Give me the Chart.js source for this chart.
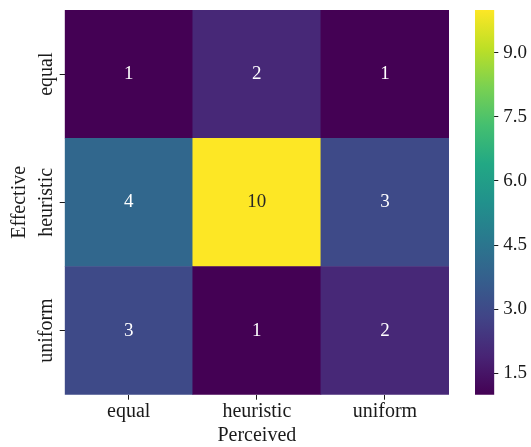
<!DOCTYPE html>
<html>
<head>
<meta charset="utf-8">
<script src="https://cdn.jsdelivr.net/npm/chart.js@4/dist/chart.umd.min.js"></script>
<style>
  html, body { margin: 0; padding: 0; background: #ffffff; }
  #wrap { position: relative; width: 531px; height: 447px; }
  #heat { position: absolute; left: 0; top: 0; }
  #cbar { position: absolute; left: 460px; top: 0; }
</style>
</head>
<body>
<div id="wrap">
  <canvas id="heat" width="460" height="447"></canvas>
  <canvas id="cbar" width="71" height="447"></canvas>
</div>
<script>
// Confusion counts: rows = effective strategy, columns = perceived strategy
const perceived = ['equal', 'heuristic', 'uniform'];
const effective = ['equal', 'heuristic', 'uniform'];
const countsEqual = [1, 2, 1];
const countsHeuristic = [4, 10, 3];
const countsUniform = [3, 1, 2];
const counts = [countsEqual, countsHeuristic, countsUniform];
const colorbarTicks = [1.5, 3.0, 4.5, 6.0, 7.5, 9.0];
const vmin = 1, vmax = 10;

const SERIF = '"Liberation Serif", "DejaVu Serif", serif';
const INK = '#1a1a1a';

// viridis sampled at 0, 0.1, ..., 1
const VIRIDIS = ['#440154', '#482475', '#414487', '#355f8d', '#2a788e', '#21918c',
                 '#22a884', '#44bf70', '#7ad151', '#bddf26', '#fde725'];
function hexToRgb(h) {
  return [parseInt(h.slice(1, 3), 16), parseInt(h.slice(3, 5), 16), parseInt(h.slice(5, 7), 16)];
}
function viridisRgb(t) {
  t = Math.min(1, Math.max(0, t));
  const p = t * (VIRIDIS.length - 1);
  const i = Math.min(VIRIDIS.length - 2, Math.floor(p));
  const f = p - i;
  const a = hexToRgb(VIRIDIS[i]), b = hexToRgb(VIRIDIS[i + 1]);
  return a.map((v, k) => Math.round(v + (b[k] - v) * f));
}
function colorFor(v) {
  const c = viridisRgb((v - vmin) / (vmax - vmin));
  return `rgb(${c[0]},${c[1]},${c[2]})`;
}
function textColorFor(v) {
  const c = viridisRgb((v - vmin) / (vmax - vmin)).map(x => {
    x /= 255;
    return x <= 0.03928 ? x / 12.92 : Math.pow((x + 0.055) / 1.055, 2.4);
  });
  const lum = 0.2126 * c[0] + 0.7152 * c[1] + 0.0722 * c[2];
  return lum > 0.408 ? '#262626' : '#ffffff';
}

// stacked bars: first dataset sits at the bottom, so rows go bottom-up
const rowOrder = effective.map((_, k) => effective.length - 1 - k);
const datasets = rowOrder.map(r => ({
  label: effective[r],
  data: perceived.map(() => 1),
  counts: counts[r],
  backgroundColor: counts[r].map(colorFor),
  borderWidth: 0,
  barPercentage: 1,
  categoryPercentage: 1
}));

const cellLabels = {
  id: 'cellLabels',
  afterDatasetsDraw(chart) {
    const ctx = chart.ctx;
    ctx.save();
    ctx.font = '19px ' + SERIF;
    ctx.textAlign = 'center';
    ctx.textBaseline = 'alphabetic';
    chart.data.datasets.forEach((ds, di) => {
      chart.getDatasetMeta(di).data.forEach((el, j) => {
        const p = el.getCenterPoint();
        const v = ds.counts[j];
        ctx.fillStyle = textColorFor(v);
        ctx.fillText(String(v), p.x, p.y + 5);
      });
    });
    ctx.restore();
  }
};

// row names, written bottom-to-top beside each y tick
const rowLabels = {
  id: 'rowLabels',
  afterDraw(chart) {
    const y = chart.scales.y;
    const ctx = chart.ctx;
    ctx.save();
    ctx.font = '20px ' + SERIF;
    ctx.fillStyle = INK;
    ctx.textAlign = 'center';
    ctx.textBaseline = 'alphabetic';
    y.ticks.forEach(t => {
      const idx = effective.length - 1 - Math.floor(t.value);
      const py = y.getPixelForValue(t.value);
      ctx.save();
      ctx.translate(51.5, py);
      ctx.rotate(-Math.PI / 2);
      ctx.fillText(effective[idx], 0, 0);
      ctx.restore();
    });
    ctx.restore();
  }
};

new Chart(document.getElementById('heat'), {
  type: 'bar',
  data: { labels: perceived, datasets },
  plugins: [cellLabels, rowLabels],
  options: {
    responsive: false,
    devicePixelRatio: 1,
    animation: false,
    layout: { padding: { left: 0, top: 10, right: 11, bottom: 0 } },
    plugins: { legend: { display: false }, tooltip: { enabled: false } },
    scales: {
      x: {
        type: 'category',
        stacked: true,
        grid: { drawOnChartArea: false, drawTicks: true, tickLength: 5, offset: false, color: INK },
        border: { display: false },
        ticks: { font: { family: SERIF, size: 20 }, color: INK, padding: 0, maxRotation: 0 },
        title: { display: true, text: 'Perceived', font: { family: SERIF, size: 20 }, color: INK,
                 padding: { top: 0, bottom: -1 } },
        afterFit: s => { s.height = 52.3; s.paddingLeft = 0; s.paddingRight = 0; }
      },
      y: {
        type: 'linear',
        stacked: true,
        min: 0,
        max: effective.length,
        afterBuildTicks: s => { s.ticks = rowOrder.map((_, k) => ({ value: k + 0.5 })); },
        grid: { drawOnChartArea: false, drawTicks: true, tickLength: 5, color: INK },
        border: { display: false },
        ticks: { display: false },
        title: { display: true, text: 'Effective', font: { family: SERIF, size: 20 }, color: INK,
                 padding: { top: 7.3, bottom: 0 } },
        afterFit: s => { s.width = 64.7; s.paddingTop = 0; s.paddingBottom = 0; }
      }
    }
  }
});

// colour bar
new Chart(document.getElementById('cbar'), {
  type: 'bar',
  data: {
    labels: [''],
    datasets: [{
      data: [[vmin, vmax]],
      backgroundColor: (c) => {
        const area = c.chart.chartArea;
        if (!area) return null;
        const g = c.chart.ctx.createLinearGradient(0, area.bottom, 0, area.top);
        VIRIDIS.forEach((col, i) => g.addColorStop(i / (VIRIDIS.length - 1), col));
        return g;
      },
      borderWidth: 0,
      barPercentage: 1,
      categoryPercentage: 1
    }]
  },
  options: {
    responsive: false,
    devicePixelRatio: 1,
    animation: false,
    layout: { padding: { left: 15, top: 10, right: 0, bottom: 52.3 } },
    plugins: { legend: { display: false }, tooltip: { enabled: false } },
    scales: {
      x: { display: false },
      y: {
        position: 'right',
        min: vmin,
        max: vmax,
        afterBuildTicks: s => { s.ticks = colorbarTicks.map(v => ({ value: v })); },
        grid: { drawOnChartArea: false, drawTicks: true, tickLength: 4, color: INK },
        border: { display: false },
        ticks: { font: { family: SERIF, size: 19 }, color: INK, padding: 5,
                 callback: v => Number(v).toFixed(1) },
        afterFit: s => { s.width = 36.7; s.paddingTop = 0; s.paddingBottom = 0; }
      }
    }
  }
});
</script>
</body>
</html>
